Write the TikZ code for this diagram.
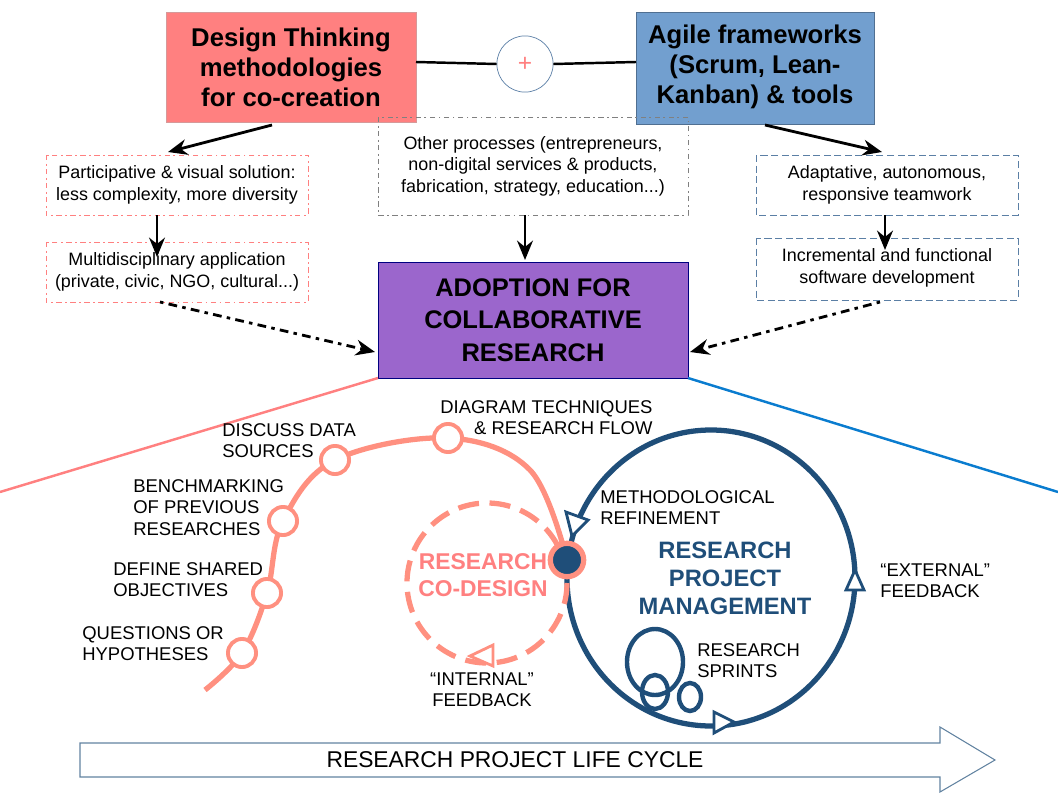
\documentclass[tikz,border=0pt]{standalone}
\usepackage{fontspec}
\setmainfont{Liberation Sans}
\usetikzlibrary{arrows.meta}
\definecolor{dtred}{HTML}{FF8080}
\definecolor{agblue}{HTML}{729FCF}
\definecolor{adpurple}{HTML}{9B66CC}
\definecolor{pinkc}{HTML}{FF9080}
\definecolor{navy}{HTML}{1F4E79}
\definecolor{linkblue}{HTML}{0A7CCF}
\tikzset{
 topbox/.style={font=\fontsize{14.6}{17}\selectfont\bfseries,align=center,inner sep=0},
 sbox/.style={align=center,font=\fontsize{10.2}{12.2}\selectfont,inner sep=0},
 blk/.style={-{Stealth[length=11pt,width=9pt]},line width=1.6pt},
 dotarr/.style={-{Stealth[length=11pt,width=9pt]},line width=1.6pt,dash pattern=on 2pt off 3pt on 5pt off 3pt},
 lbl/.style={font=\fontsize{10.5}{12.2}\selectfont,align=left,inner sep=0},
 dot/.style={circle,draw=pinkc,line width=2.2pt,fill=white,minimum size=16pt,inner sep=0},
 tri/.style={line width=1.6pt,fill=white,line join=miter}
}
\begin{document}
\begin{tikzpicture}[x=0.02cm,y=-0.02cm]
\useasboundingbox (0,0) rectangle (1058,794);
% top boxes
\draw[fill=dtred,draw=red!60!black!40] (166,12) rectangle (416,122);
\node[topbox] (dt) at (291,67) {Design Thinking\\methodologies\\for co-creation};
\draw[fill=agblue,draw=agblue!70!black] (636,12) rectangle (874,124);
\node[topbox] (ag) at (755,67) {Agile frameworks\\(Scrum, Lean-\\Kanban) \& tools};
\node[circle,draw=agblue!80!black,fill=white,minimum size=32pt,inner sep=0,font=\fontsize{14}{14}\selectfont,text=dtred] (plus) at (525,64) {+};
\draw[line width=1.4pt] (416,62) -- (plus.west);
\draw[line width=1.4pt] (plus.east) -- (636,62);
% purple
\draw[fill=adpurple,draw=blue!50!black] (378,262) rectangle (688,378);
\node[font=\fontsize{14.5}{18.5}\selectfont\bfseries,align=center] (ad) at (533,320) {ADOPTION FOR\\COLLABORATIVE\\RESEARCH};
% dashed boxes
\draw[dtred,dash pattern=on 3pt off 2pt on 1pt off 2pt] (46,155) rectangle (308,215);
\node[sbox] (l1) at (177,185) {Participative \& visual solution:\\less complexity, more diversity};
\draw[dtred,dash pattern=on 3pt off 2pt on 1pt off 2pt] (46,242) rectangle (308,302);
\node[sbox] (l2) at (177,272) {Multidisciplinary application\\(private, civic, NGO, cultural...)};
\draw[gray,dash pattern=on 3pt off 2pt on 1pt off 2pt] (378,117) rectangle (688,215);
\node[sbox] (mid) at (533,166) {Other processes (entrepreneurs,\\non-digital services \& products,\\fabrication, strategy, education...)};
\draw[agblue!80!black,dash pattern=on 4pt off 2pt] (756,155) rectangle (1018,215);
\node[sbox] (r1) at (887,185) {Adaptative, autonomous,\\responsive teamwork};
\draw[agblue!80!black,dash pattern=on 4pt off 2pt] (756,238) rectangle (1018,300);
\node[sbox] (r2) at (887,268) {Incremental and functional\\software development};
\coordinate (a1) at (272,125); \coordinate (a1e) at (168,152);
\coordinate (a2) at (765,125); \coordinate (a2e) at (882,152);
\draw[blk] (a1) -- (a1e);
\draw[blk] (a2) -- (a2e);
\draw[blk] (525,215) -- (525,260);
\draw[blk] (157,215) -- (157,257);
\draw[blk] (885,215) -- (885,250);
\draw[dotarr] (160,302) -- (375,352);
\draw[dotarr] (880,302) -- (690,352);
% diverging lines
\draw[dtred,line width=1.4pt] (378,378) -- (0,492);
\draw[linkblue,line width=1.4pt] (688,378) -- (1058,492);
% navy loop
\draw[navy,line width=3pt] (711,578) ellipse (144 and 148);
\draw[navy,line width=2.5pt] (655,662) ellipse (28 and 33);
\draw[navy,line width=2.5pt] (655,692) ellipse (13 and 17);
\draw[navy,line width=2.5pt] (690,697) ellipse (11 and 14);
\draw[navy,tri] (566,512) -- (588,520) -- (572,536) -- cycle;
\draw[navy,tri] (855,570) -- (846,590) -- (864,590) -- cycle;
\draw[navy,tri] (734,722) -- (714,712) -- (714,733) -- cycle;
% pink
\draw[pinkc,line width=3pt,dash pattern=on 12pt off 6pt] (487,583) circle (80);
\draw[pinkc,tri] (470,656) -- (493,645) -- (493,666) -- cycle;
\draw[pinkc,line width=3pt] plot[smooth,tension=0.6] coordinates {(205,690) (242,653) (267,593) (283,521) (335,460) (448,438) (530,470) (567,560)};
\node[circle,draw=pinkc,line width=3pt,fill=navy,minimum size=19pt,inner sep=0] (hub) at (567,560) {};
\foreach \p/\n in {{242,653}/d1,{267,593}/d2,{283,521}/d3,{335,460}/d4,{448,438}/d5} \node[dot] (\n) at (\p) {};
% labels
\node[lbl,anchor=north west] (q) at (82,626) {QUESTIONS OR\\HYPOTHESES};
\node[lbl,anchor=north west] (o) at (113,562) {DEFINE SHARED\\OBJECTIVES};
\node[lbl,anchor=north west] (b) at (133,479) {BENCHMARKING\\OF PREVIOUS\\RESEARCHES};
\node[lbl,anchor=north west] (ds) at (222,423) {DISCUSS DATA\\SOURCES};
\node[lbl,anchor=north west,align=right] (dg) at (440,400) {DIAGRAM TECHNIQUES\\\& RESEARCH FLOW};
\node[lbl,anchor=north west] (mr) at (600,490) {METHODOLOGICAL\\REFINEMENT};
\node[lbl,anchor=north west] (ef) at (880,563) {``EXTERNAL''\\FEEDBACK};
\node[lbl,anchor=north west] (rs) at (697,643) {RESEARCH\\SPRINTS};
\node[lbl,align=center] (inf) at (482,690) {``INTERNAL''\\FEEDBACK};
\node[font=\fontsize{13}{15.5}\selectfont\bfseries,text=dtred,align=center] (rc) at (483,575) {RESEARCH\\CO-DESIGN};
\node[font=\fontsize{13.5}{16}\selectfont\bfseries,text=navy,align=center] (pm) at (725,578) {RESEARCH\\PROJECT\\MANAGEMENT};
% bottom arrow
\draw[navy!70,line width=0.6pt,fill=white] (80,743) -- (940,743) -- (940,727) -- (995,760) -- (940,792) -- (940,777) -- (80,777) -- cycle;
\node[font=\fontsize{13}{15}\selectfont] (lc) at (515,760) {RESEARCH PROJECT LIFE CYCLE};
\end{tikzpicture}
\end{document}
